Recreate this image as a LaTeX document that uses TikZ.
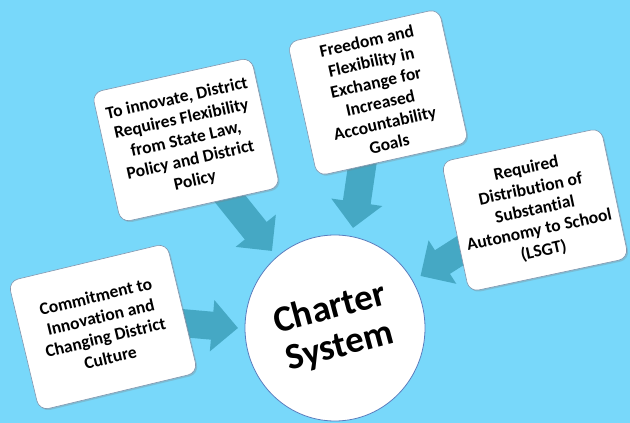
\documentclass[tikz,border=0pt]{standalone}
\usepackage{fontspec}
\setmainfont{Carlito}[Ligatures=NoCommon]
\usetikzlibrary{shapes.geometric,arrows.meta,shadows}
\definecolor{bgblue}{RGB}{120,216,250}
\definecolor{arrowteal}{RGB}{69,168,196}
\definecolor{boxline}{RGB}{130,150,175}
\definecolor{circline}{RGB}{90,125,190}
\tikzset{
  infobox/.style={draw=boxline, line width=0.6pt, fill=white, rounded corners=10pt,
    minimum width=163pt, minimum height=133pt, align=center, inner sep=3pt,
    font=\bfseries\fontsize{17.5}{21}\selectfont,
    drop shadow={shadow xshift=1.5pt, shadow yshift=-1.5pt, opacity=0.3}},
  hub/.style={ellipse, draw=circline, line width=0.8pt, fill=white,
    minimum width=180pt, minimum height=186pt, inner sep=0pt, align=center},
  hubtext/.style={font=\bfseries\fontsize{37}{39}\selectfont, align=center},
  blockarrow/.style={draw=arrowteal, line width=28pt,
    -{Triangle[width=50pt,length=26pt]}}
}
\begin{document}
\begin{tikzpicture}[x=1pt,y=-1pt]
\fill[bgblue] (0,0) rectangle (630,423);
\useasboundingbox (0,0) rectangle (630,423);
% arrow anchor coordinates
\coordinate (s1) at (215,180);
\coordinate (t1) at (272,251);
\coordinate (s2) at (363,160);
\coordinate (t2) at (353,228);
\coordinate (s3) at (488,233);
\coordinate (t3) at (420.5,276);
\coordinate (s4) at (170,322);
\coordinate (t4) at (238,328);
\draw[blockarrow] (s1) -- (t1);
\draw[blockarrow] (s2) -- (t2);
\draw[blockarrow] (s3) -- (t3);
\draw[blockarrow] (s4) -- (t4);
% boxes
\node[infobox, rotate=12.5] (b1) at (186,140) {To innovate, District\\Requires Flexibility\\from State Law,\\Policy and District\\Policy};
\node[infobox, rotate=12.5, minimum width=155pt, minimum height=137pt] (b2) at (378,92.5) {Freedom and\\Flexibility in\\Exchange for\\Increased\\Accountability\\Goals};
\node[infobox, rotate=12] (b3) at (535,210) {Required\\Distribution of\\Substantial\\Autonomy to School\\(LSGT)};
\node[infobox, rotate=13.5] (b4) at (103,327) {Commitment to\\Innovation and\\Changing District\\Culture};
% hub
\node[hub] (hubc) at (335,328) {};
\node[hubtext, rotate=15] (hubt) at (hubc) {Charter\\System};
\end{tikzpicture}
\end{document}
